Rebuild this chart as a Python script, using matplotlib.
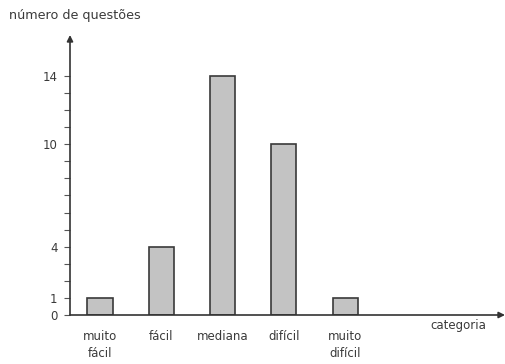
import matplotlib
matplotlib.use("Agg")
import matplotlib.pyplot as plt

categories = ["muito\nfácil", "fácil", "mediana", "difícil", "muito\ndifícil"]
values = [1, 4, 14, 10, 1]
y_tick_labels = [0, 1, 4, 10, 14]
y_minor = list(range(0, 15))

txt = "#3a3a3a"
fig = plt.figure(figsize=(5.06, 3.64), dpi=100)
ax = fig.add_axes([70/506, 1-315/364, 435/506, 280/364])
x = list(range(len(categories)))
ax.bar(x, values, width=0.41, color="#c3c3c3", edgecolor="#3a3a3a", linewidth=1.2, zorder=3)
ax.set_xlim(-0.49, 6.61)
ax.set_ylim(0, 16.4)
for s in ax.spines.values():
    s.set_visible(False)
ax.annotate("", xy=(0, 1), xytext=(0, 0), xycoords="axes fraction",
            arrowprops=dict(arrowstyle="-|>", color="#333333", lw=1.2, mutation_scale=9, shrinkA=0, shrinkB=0))
ax.annotate("", xy=(1, 0), xytext=(0, 0), xycoords="axes fraction",
            arrowprops=dict(arrowstyle="-|>", color="#333333", lw=1.2, mutation_scale=9, shrinkA=0, shrinkB=0))
ax.set_yticks(y_minor, minor=True)
ax.set_yticks(y_tick_labels)
ax.set_yticklabels([str(v) for v in y_tick_labels], fontsize=8.5, color=txt)
ax.tick_params(axis="y", which="both", length=4, width=0.8, color="#555555", pad=5)
ax.set_xticks(x)
ax.set_xticklabels(categories, fontsize=8.5, color=txt, linespacing=1.35)
ax.tick_params(axis="x", length=0, pad=11)
fig.text(9/506, 1-16/364, "número de questões", fontsize=9.2, color=txt, va="center", ha="left")
fig.text(458/506, 1-326/364, "categoria", fontsize=8.5, color=txt, va="center", ha="center")
fig.savefig("out.png", dpi=100, facecolor="white")
